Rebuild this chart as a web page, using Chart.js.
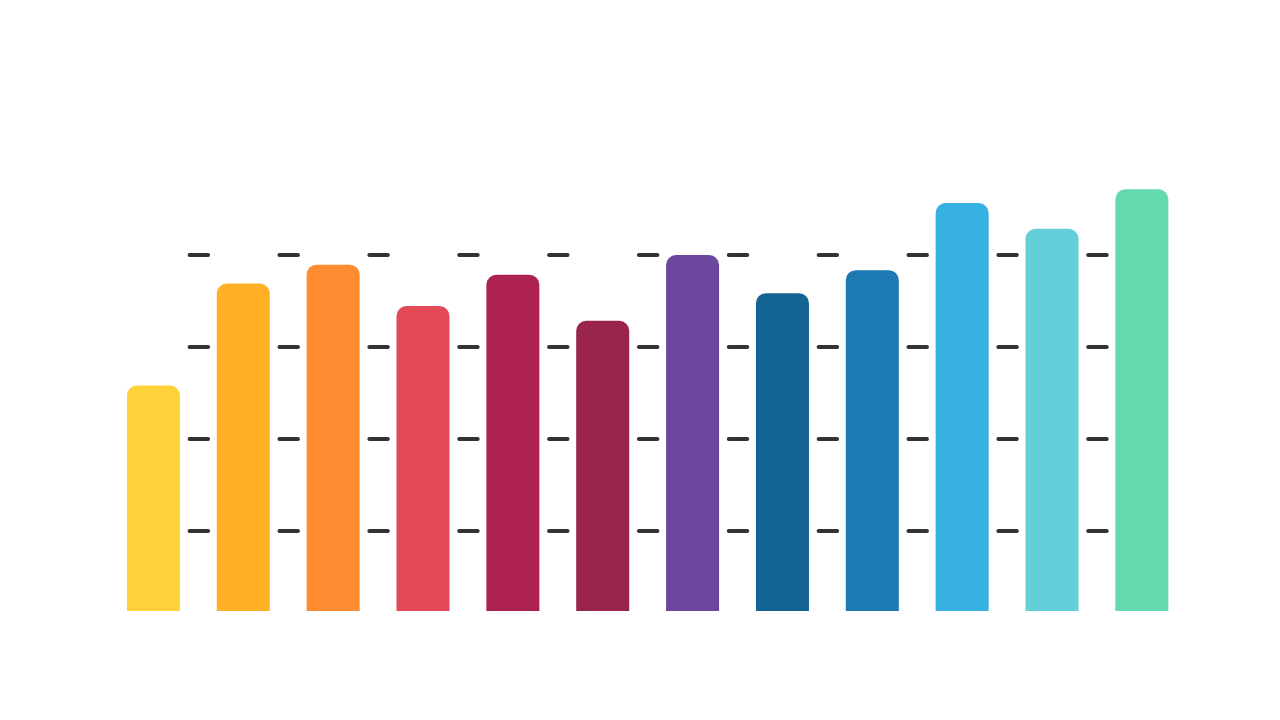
<!DOCTYPE html>
<html>
<head>
<meta charset="utf-8">
<script src="https://cdn.jsdelivr.net/npm/chart.js@4.4.1/dist/chart.umd.min.js"></script>
<style>
  html, body { margin: 0; padding: 0; background: #ffffff; }
  #wrap { position: relative; width: 1280px; height: 720px; }
</style>
</head>
<body>
<div id="wrap"><canvas id="c" width="1280" height="720"></canvas></div>
<script>
// ---- data ----
const categories = ['1', '2', '3', '4', '5', '6', '7', '8', '9', '10', '11', '12'];
const values = [51.6, 73.8, 77.9, 68.9, 75.7, 65.7, 80.0, 71.7, 76.7, 91.3, 85.7, 94.3];
const barColors = ['#FFD23A', '#FFB024', '#FF8C31', '#E24A57', '#AD2253', '#99244C',
                   '#6B479D', '#146493', '#1D79B1', '#36B1E2', '#63CFD9', '#64D9AE'];
const yTicks = [20, 40, 60, 80];
const yMin = 2.6;
const yMax = 100;

// dashed gridline pattern: one short dash centred on each boundary between bars
const DASH = 18.5;
function gridDash(ctx) {
  const ca = ctx.chart.chartArea;
  const cw = (ca.right - ca.left) / categories.length;
  const arr = [];
  const n = categories.length - 1;
  for (let i = 0; i < n; i++) {
    arr.push(DASH, i === n - 1 ? 2000 : cw - DASH);
  }
  return arr;
}
function gridDashOffset(ctx) {
  const ca = ctx.chart.chartArea;
  const cw = (ca.right - ca.left) / categories.length;
  const n = categories.length - 1;
  const total = n * DASH + (n - 1) * (cw - DASH) + 2000;
  return total - (cw - DASH / 2);
}

const roundCaps = {
  id: 'roundCaps',
  beforeDraw(chart) { chart.ctx.save(); chart.ctx.lineCap = 'round'; },
  afterDraw(chart) { chart.ctx.restore(); }
};

new Chart(document.getElementById('c'), {
  type: 'bar',
  data: {
    labels: categories,
    datasets: [{
      data: values,
      backgroundColor: barColors,
      borderWidth: 0,
      borderRadius: 10,
      borderSkipped: 'start',
      categoryPercentage: 1,
      barPercentage: 0.59
    }]
  },
  options: {
    responsive: false,
    animation: false,
    devicePixelRatio: 1,
    layout: { padding: { left: 108.5, right: 93.2, top: 163, bottom: 109 } },
    plugins: { legend: { display: false }, tooltip: { enabled: false }, title: { display: false } },
    scales: {
      x: { display: false },
      y: {
        display: true,
        min: yMin,
        max: yMax,
        afterBuildTicks: (scale) => { scale.ticks = yTicks.map(v => ({ value: v })); },
        afterFit: (scale) => { scale.width = 0; },
        ticks: { display: false },
        border: {
          display: false,
          dash: gridDash,
          dashOffset: gridDashOffset
        },
        grid: {
          drawTicks: false,
          color: '#333333',
          lineWidth: 4
        }
      }
    }
  },
  plugins: [roundCaps]
});
</script>
</body>
</html>
